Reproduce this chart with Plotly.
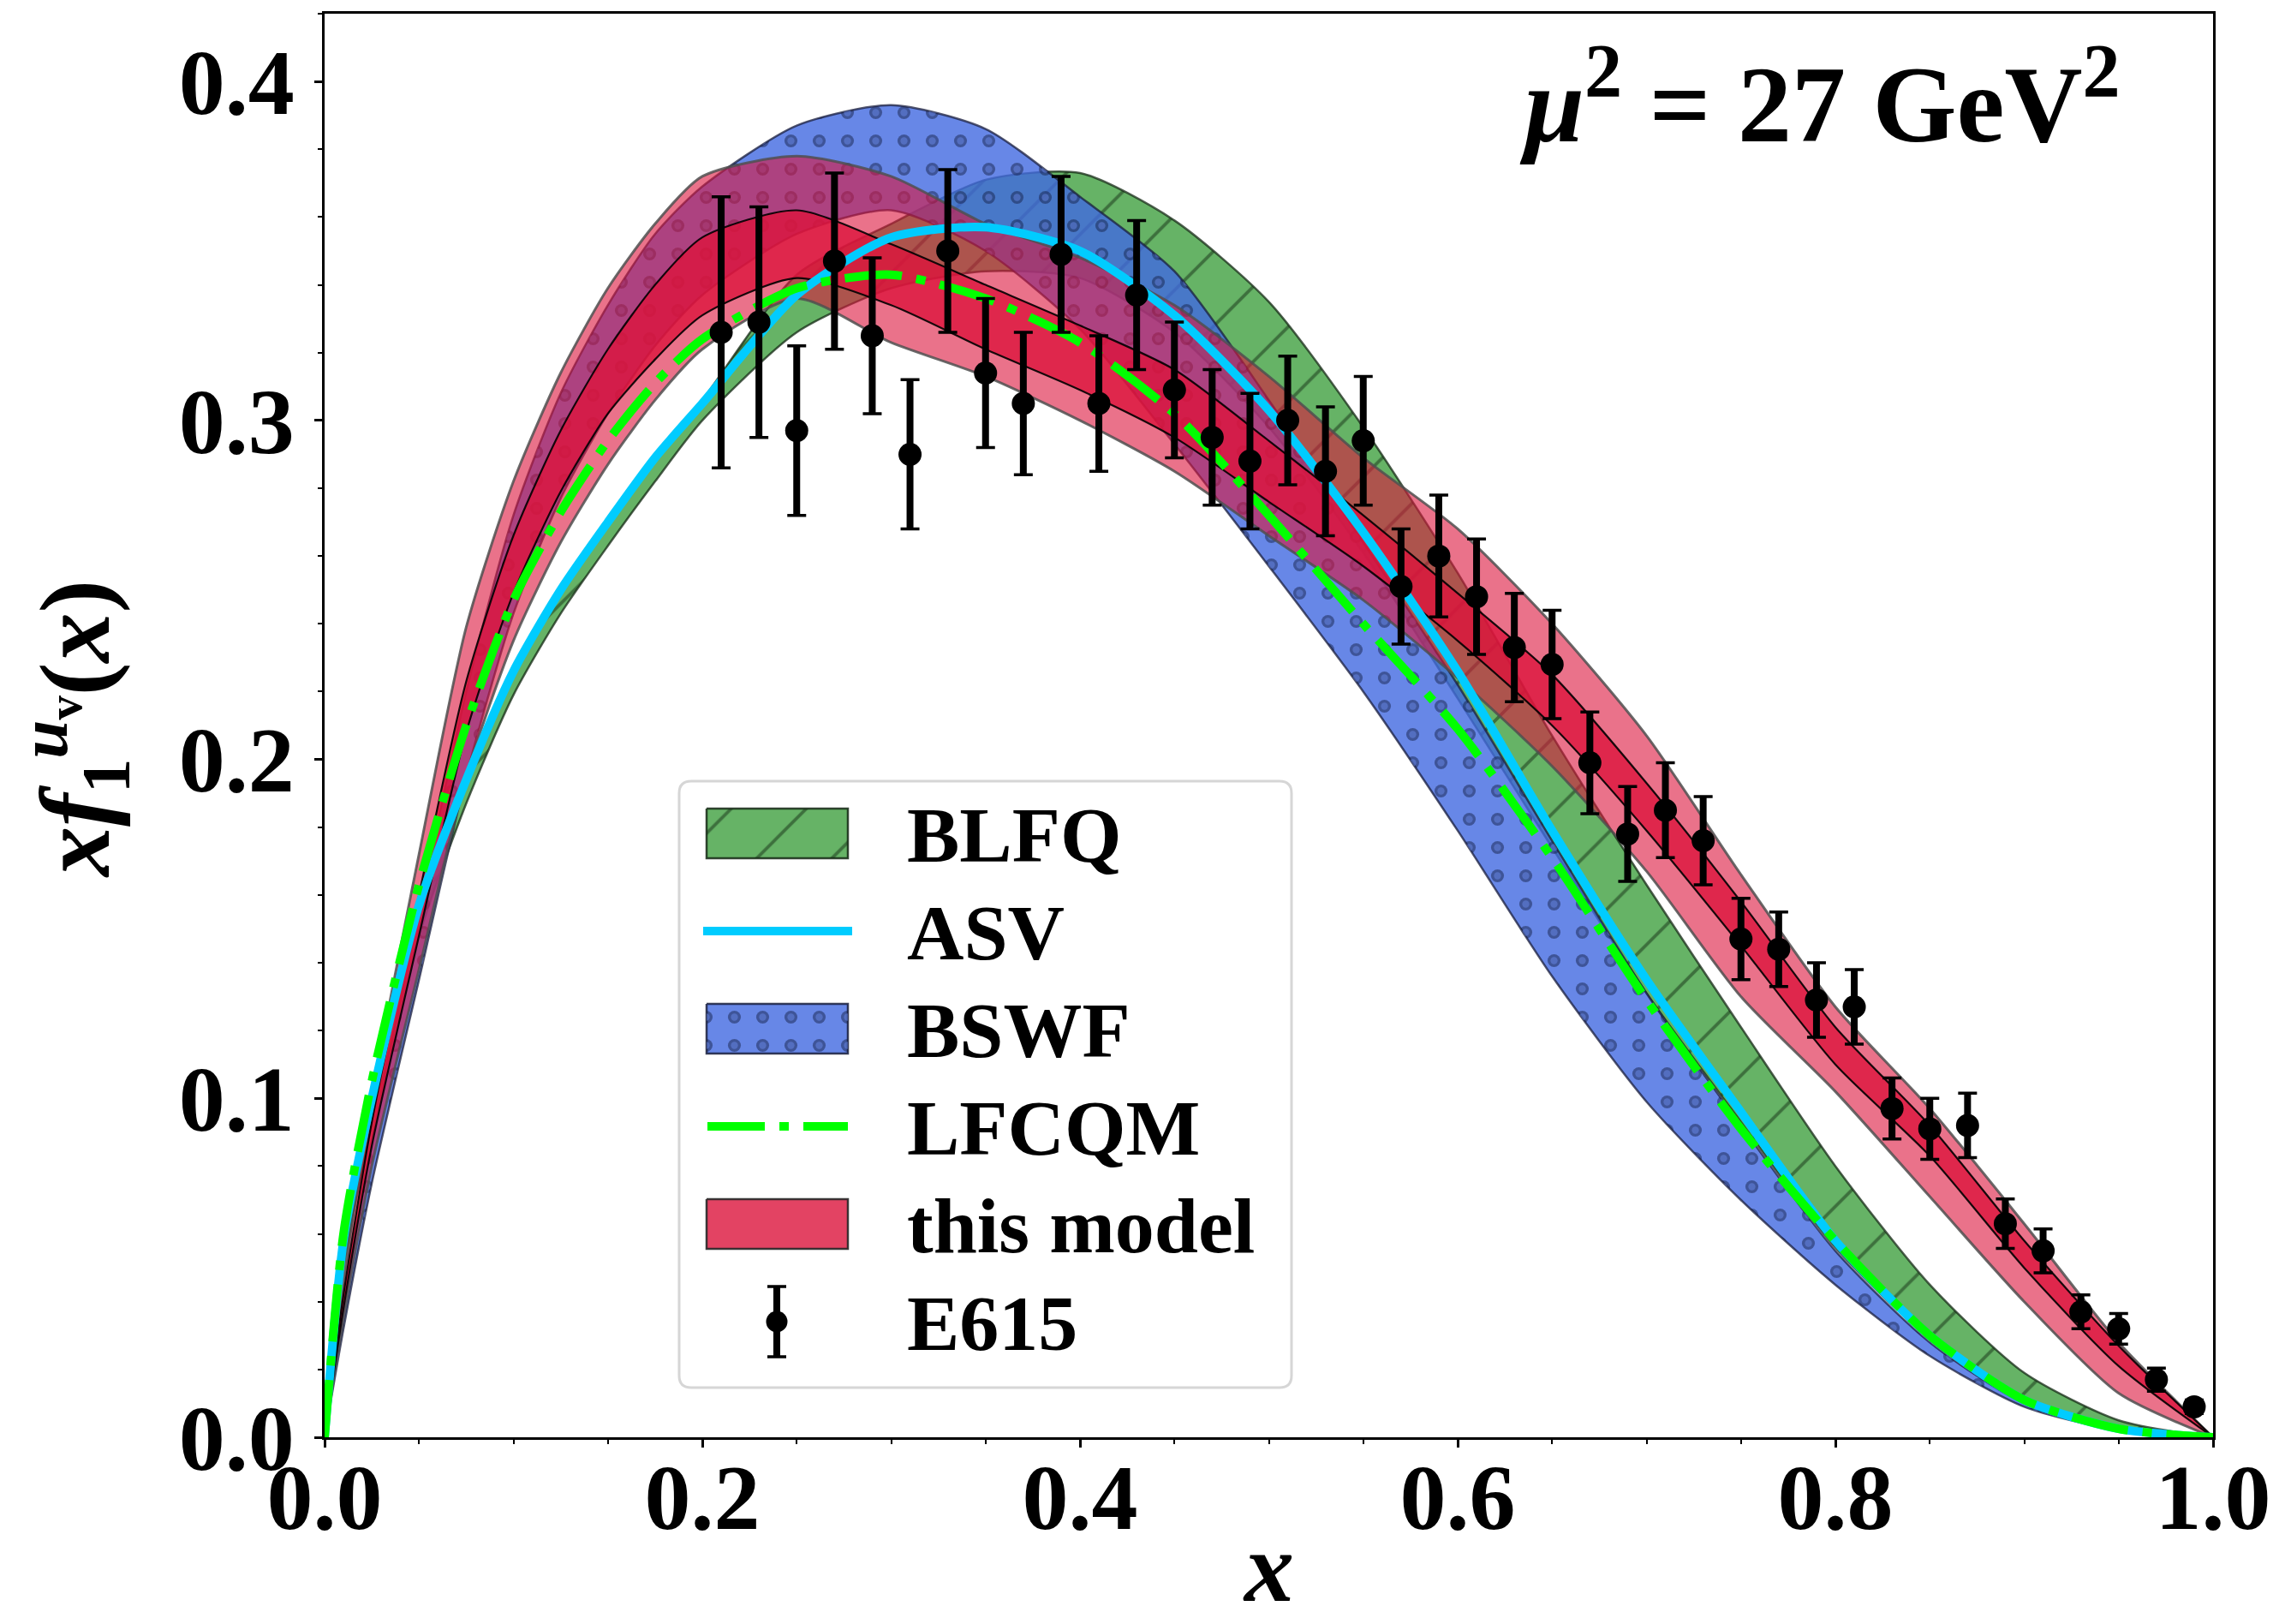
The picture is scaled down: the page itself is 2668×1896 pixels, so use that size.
import plotly.graph_objects as go

# ---------------- data ----------------
X_GRID = [0.0, 0.01, 0.025, 0.05, 0.075, 0.1, 0.125, 0.15, 0.175, 0.2, 0.25, 0.3, 0.35,
          0.4, 0.45, 0.5, 0.55, 0.6, 0.65, 0.7, 0.75, 0.8, 0.85, 0.9, 0.95, 1.0]

BLFQ_LO = [0, 0.050, 0.092, 0.148, 0.187, 0.219, 0.243, 0.263, 0.282, 0.300, 0.326, 0.339, 0.344,
           0.342, 0.326, 0.298, 0.261, 0.218, 0.174, 0.131, 0.093, 0.056, 0.029, 0.010, 0.002, 0]
BLFQ_HI = [0, 0.056, 0.099, 0.155, 0.194, 0.226, 0.250, 0.270, 0.289, 0.306, 0.343, 0.358, 0.371,
           0.373, 0.359, 0.335, 0.298, 0.255, 0.207, 0.163, 0.121, 0.080, 0.045, 0.019, 0.005, 0]

BSWF_LO = [0, 0.032, 0.075, 0.135, 0.195, 0.243, 0.277, 0.302, 0.322, 0.337, 0.355, 0.362, 0.350,
           0.327, 0.293, 0.257, 0.220, 0.179, 0.136, 0.099, 0.070, 0.045, 0.024, 0.009, 0.002, 0]
BSWF_HI = [0, 0.040, 0.088, 0.155, 0.220, 0.272, 0.308, 0.334, 0.355, 0.369, 0.387, 0.393, 0.386,
           0.366, 0.344, 0.306, 0.264, 0.222, 0.176, 0.131, 0.092, 0.055, 0.028, 0.010, 0.0025, 0]

MODEL_OUT_LO = [0, 0.035, 0.080, 0.138, 0.195, 0.235, 0.264, 0.287, 0.306, 0.321, 0.336, 0.323, 0.313,
                0.300, 0.285, 0.266, 0.247, 0.224, 0.198, 0.167, 0.130, 0.102, 0.071, 0.040, 0.013, 0]
MODEL_IN_LO = [0, 0.038, 0.086, 0.148, 0.208, 0.249, 0.279, 0.302, 0.318, 0.331, 0.342, 0.334, 0.321,
               0.309, 0.295, 0.276, 0.257, 0.235, 0.210, 0.179, 0.145, 0.110, 0.083, 0.050, 0.021, 0]
MODEL_IN_HI = [0, 0.042, 0.093, 0.160, 0.223, 0.266, 0.297, 0.321, 0.340, 0.354, 0.362, 0.352, 0.340,
               0.328, 0.315, 0.294, 0.272, 0.249, 0.225, 0.193, 0.158, 0.121, 0.092, 0.058, 0.027, 0]
MODEL_OUT_HI = [0, 0.046, 0.100, 0.172, 0.239, 0.282, 0.314, 0.339, 0.358, 0.372, 0.378, 0.372, 0.358,
                0.348, 0.334, 0.313, 0.289, 0.268, 0.240, 0.207, 0.166, 0.127, 0.097, 0.063, 0.028, 0]

ASV = [0, 0.058, 0.100, 0.157, 0.194, 0.226, 0.250, 0.270, 0.289, 0.305, 0.337, 0.354, 0.357,
       0.350, 0.331, 0.303, 0.267, 0.226, 0.179, 0.135, 0.096, 0.058, 0.030, 0.011, 0.0025, 0]
LFCQM = [0, 0.060, 0.105, 0.163, 0.210, 0.247, 0.273, 0.294, 0.311, 0.324, 0.339, 0.343, 0.336,
         0.323, 0.302, 0.272, 0.240, 0.209, 0.171, 0.129, 0.091, 0.058, 0.030, 0.011, 0.0025, 0]

E615_X = [0.21, 0.23, 0.25, 0.27, 0.29, 0.31, 0.33, 0.35, 0.37, 0.39, 0.41, 0.43, 0.45, 0.47,
          0.49, 0.51, 0.53, 0.55, 0.57, 0.59, 0.61, 0.63, 0.65, 0.67, 0.69, 0.71, 0.73, 0.75,
          0.77, 0.79, 0.81, 0.83, 0.85, 0.87, 0.89, 0.91, 0.93, 0.95, 0.97, 0.99]
E615_Y = [0.326, 0.329, 0.297, 0.347, 0.325, 0.290, 0.350, 0.314, 0.305, 0.349, 0.305, 0.337,
          0.309, 0.295, 0.288, 0.300, 0.285, 0.294, 0.251, 0.260, 0.248, 0.233, 0.228, 0.199,
          0.178, 0.185, 0.176, 0.147, 0.144, 0.129, 0.127, 0.097, 0.091, 0.092, 0.063, 0.055,
          0.037, 0.032, 0.017, 0.009]
E615_ERR = [0.040, 0.034, 0.025, 0.026, 0.023, 0.022, 0.024, 0.022, 0.021, 0.023, 0.020, 0.022,
            0.020, 0.020, 0.020, 0.019, 0.019, 0.019, 0.017, 0.018, 0.017, 0.016, 0.016, 0.015,
            0.014, 0.014, 0.013, 0.012, 0.011, 0.011, 0.011, 0.009, 0.009, 0.0095, 0.0073, 0.0065,
            0.005, 0.0045, 0.0034, 0.002]

LEGEND_LABELS = ["BLFQ", "ASV", "BSWF", "LFCQM", "this model", "E615"]
X_TICKS = [0.0, 0.2, 0.4, 0.6, 0.8, 1.0]
Y_TICKS = [0.0, 0.1, 0.2, 0.3, 0.4]

# ---------------- style ----------------
FONT = "Liberation Serif"
W, H = 2668, 1896
PL, PR, PT, PB = 379, 2584, 16, 1678   # plot area in px

GREEN = "rgba(0,128,0,0.6)"
BLUE = "rgba(65,105,225,0.8)"
BLUE_SOLID = "#6787E7"
RED_OUT = "rgba(220,20,60,0.6)"
RED_IN = "rgba(220,20,60,0.8)"
CYAN = "#00CCFF"
LIME = "#00FF00"
DASHDOT = "67px,17px,11px,17px"

PAT_BLFQ = dict(shape="/", bgcolor=GREEN, fgcolor="rgba(10,30,10,0.9)", size=62, solidity=0.06)
PAT_BSWF = dict(shape=".", bgcolor=BLUE, fgcolor="#16214A", size=33, solidity=0.165)
PAT_BSWF_HOLE = dict(shape=".", bgcolor="rgba(0,0,0,0)", fgcolor=BLUE_SOLID, size=33, solidity=0.05)

fig = go.Figure()
SPL = dict(shape="spline", smoothing=0.7)


def add_band(lo, hi, fill, edge, width, pattern=None):
    common = dict(x=X_GRID, mode="lines", hoverinfo="skip", showlegend=False)
    fig.add_trace(go.Scatter(y=lo, line=dict(color=edge, width=width, **SPL), **common))
    extra = {"fillpattern": pattern} if pattern else {}
    fig.add_trace(go.Scatter(y=hi, line=dict(color=edge, width=width, **SPL), fill="tonexty",
                             fillcolor=fill, **common, **extra))


# bands (drawing order as in the reference)
add_band(BLFQ_LO, BLFQ_HI, GREEN, "rgba(20,40,20,0.75)", 2.5, PAT_BLFQ)
add_band(BSWF_LO, BSWF_HI, BLUE, "rgba(25,30,60,0.75)", 2.5, PAT_BSWF)
add_band(BSWF_LO, BSWF_HI, "rgba(0,0,0,0)", "rgba(0,0,0,0)", 0, PAT_BSWF_HOLE)
add_band(MODEL_OUT_LO, MODEL_OUT_HI, RED_OUT, "rgba(80,80,80,0.85)", 3)
add_band(MODEL_IN_LO, MODEL_IN_HI, RED_IN, "rgba(0,0,0,0.9)", 2.2)

# lines
fig.add_trace(go.Scatter(x=X_GRID, y=ASV, mode="lines", line=dict(color=CYAN, width=10, **SPL),
                         hoverinfo="skip", showlegend=False))
fig.add_trace(go.Scatter(x=X_GRID, y=LFCQM, mode="lines",
                         line=dict(color=LIME, width=10, dash=DASHDOT, **SPL),
                         hoverinfo="skip", showlegend=False))

# data: thin caps first, then thick bars without caps plus markers
fig.add_trace(go.Scatter(x=E615_X, y=E615_Y, mode="markers", marker=dict(color="black", size=1),
                         error_y=dict(type="data", array=E615_ERR, color="black", thickness=3.5, width=11),
                         hoverinfo="skip", showlegend=False))
fig.add_trace(go.Scatter(x=E615_X, y=E615_Y, mode="markers",
                         marker=dict(color="black", size=27),
                         error_y=dict(type="data", array=E615_ERR, color="black", thickness=8, width=0),
                         hoverinfo="skip", showlegend=False))

# ---------------- hand-made legend (pixel overlay axes) ----------------
BOX = (793, 912, 1508, 1620)
RAD = 14
ROWS = [973, 1087, 1201, 1315, 1429, 1543]
PX0, PX1, PHH = 825, 990, 29
LX0, LX1 = 821, 995
TXT_X = 1057


def rect(yc):
    return [PX0, PX1, PX1, PX0, PX0], [yc - PHH, yc - PHH, yc + PHH, yc + PHH, yc - PHH]


def patch(yc, fill, edge, pattern=None):
    xs, ys = rect(yc)
    extra = {"fillpattern": pattern} if pattern else {}
    fig.add_trace(go.Scatter(x=xs, y=ys, mode="lines", fill="toself", fillcolor=fill,
                             line=dict(color=edge, width=2.5), xaxis="x2", yaxis="y2",
                             hoverinfo="skip", showlegend=False, **extra))


patch(ROWS[0], GREEN, "rgba(20,40,20,0.85)", PAT_BLFQ)
fig.add_trace(go.Scatter(x=[LX0, LX1], y=[ROWS[1], ROWS[1]], mode="lines",
                         line=dict(color=CYAN, width=10), xaxis="x2", yaxis="y2",
                         hoverinfo="skip", showlegend=False))
patch(ROWS[2], BLUE, "rgba(25,30,60,0.85)", PAT_BSWF)
xs, ys = rect(ROWS[2])
fig.add_trace(go.Scatter(x=xs, y=ys, mode="lines", fill="toself", fillpattern=PAT_BSWF_HOLE,
                         line=dict(width=0), xaxis="x2", yaxis="y2", hoverinfo="skip", showlegend=False))
fig.add_trace(go.Scatter(x=[LX0 + 5, LX1 - 5], y=[ROWS[3], ROWS[3]], mode="lines",
                         line=dict(color=LIME, width=10, dash=DASHDOT), xaxis="x2", yaxis="y2",
                         hoverinfo="skip", showlegend=False))
patch(ROWS[4], RED_IN, "rgba(40,40,40,0.9)")
EX = (PX0 + PX1) / 2 - 0.5
fig.add_trace(go.Scatter(x=[EX], y=[ROWS[5]], mode="markers", marker=dict(color="black", size=1),
                         error_y=dict(type="data", array=[41], color="black", thickness=3.5, width=11),
                         xaxis="x2", yaxis="y2", hoverinfo="skip", showlegend=False))
fig.add_trace(go.Scatter(x=[EX], y=[ROWS[5]], mode="markers", marker=dict(color="black", size=25),
                         error_y=dict(type="data", array=[41], color="black", thickness=8, width=0),
                         xaxis="x2", yaxis="y2", hoverinfo="skip", showlegend=False))

x0, y0, x1, y1 = BOX
box_path = (f"M{x0+RAD},{y0} L{x1-RAD},{y0} Q{x1},{y0} {x1},{y0+RAD} L{x1},{y1-RAD} "
            f"Q{x1},{y1} {x1-RAD},{y1} L{x0+RAD},{y1} Q{x0},{y1} {x0},{y1-RAD} "
            f"L{x0},{y0+RAD} Q{x0},{y0} {x0+RAD},{y0} Z")
fig.add_shape(type="path", path=box_path, xref="x2", yref="y2", layer="below",
              line=dict(color="#D6D6D6", width=3), fillcolor="rgba(255,255,255,0.8)")


def px_to_paper(X, Y):
    return (X - PL) / (PR - PL), (PB - Y) / (PB - PT)


annotations = []
for lab, yc in zip(LEGEND_LABELS, ROWS):
    annotations.append(dict(text=f"<b>{lab}</b>", x=TXT_X, y=yc + 2, xref="x2", yref="y2",
                            xanchor="left", yanchor="middle", showarrow=False,
                            font=dict(family=FONT, size=92, color="black")))

annotations.append(dict(text="<b><i>μ</i><sup>2</sup> = 27 GeV<sup>2</sup></b>", x=2478, y=112,
                        xref="x2", yref="y2", xanchor="right", yanchor="middle", showarrow=False,
                        font=dict(family=FONT, size=126, color="black")))
ylx, yly = px_to_paper(88, 851)
annotations.append(dict(text="<b><i>xf</i><sub>1</sub><sup><i>u</i><sub>v</sub></sup>(<i>x</i>)</b>",
                        x=ylx, y=yly, xref="paper", yref="paper", xanchor="center", yanchor="middle",
                        textangle=-90, showarrow=False,
                        font=dict(family=FONT, size=116, color="black")))
xlx, xly = px_to_paper(1481, 1830)
annotations.append(dict(text="<b><i>x</i></b>", x=xlx, y=xly, xref="paper", yref="paper",
                        xanchor="center", yanchor="middle", showarrow=False,
                        font=dict(family=FONT, size=116, color="black")))

axis_common = dict(showline=True, linecolor="black", linewidth=2.5, mirror=True, showgrid=False,
                   zeroline=False, ticks="outside", ticklen=9, tickwidth=2.5, tickcolor="black",
                   tickfont=dict(family=FONT, size=108, color="black", weight="bold"),
                   tickformat=".1f")

fig.update_layout(
    width=W, height=H,
    margin=dict(l=PL, r=W - PR, t=PT, b=H - PB, pad=0),
    paper_bgcolor="white", plot_bgcolor="white",
    showlegend=False,
    xaxis=dict(range=[0, 1], tickvals=X_TICKS, ticklabelstandoff=-34,
               minor=dict(dtick=0.05, tick0=0, ticks="outside", ticklen=5, tickwidth=2,
                          tickcolor="black", showgrid=False),
               **axis_common),
    yaxis=dict(range=[0, 0.42], tickvals=Y_TICKS, ticklabelstandoff=2,
               minor=dict(dtick=0.02, tick0=0, ticks="outside", ticklen=5, tickwidth=2,
                          tickcolor="black", showgrid=False),
               **axis_common),
    xaxis2=dict(overlaying="x", range=[PL, PR], visible=False, anchor="y2"),
    yaxis2=dict(overlaying="y", range=[PB, PT], visible=False, anchor="x2"),
    annotations=annotations,
)

fig.write_html("out.html", config={"displayModeBar": False})
